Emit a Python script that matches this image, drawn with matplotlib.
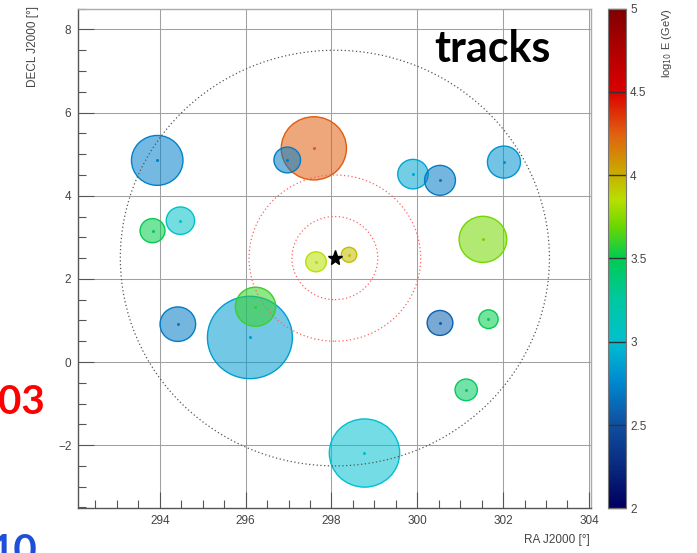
import matplotlib
matplotlib.use("Agg")
import matplotlib.pyplot as plt
from matplotlib.patches import Circle
from matplotlib.colors import LinearSegmentedColormap, Normalize
from matplotlib.ticker import MultipleLocator, FixedLocator
import numpy as np

# ---- event tracks: position (deg), angular error radius (deg), log10 energy ----
ra = [293.94, 297.59, 296.97, 293.83, 294.48, 297.64, 298.41, 299.90, 300.53,
      302.02, 301.53, 294.42, 296.10, 296.23, 298.77, 300.53, 301.66, 301.14]
dec = [4.85, 5.14, 4.86, 3.16, 3.40, 2.41, 2.58, 4.52, 4.37,
       4.81, 2.95, 0.91, 0.59, 1.33, -2.19, 0.94, 1.03, -0.67]
radius = [0.60, 0.76, 0.31, 0.29, 0.33, 0.24, 0.18, 0.355, 0.36,
          0.385, 0.555, 0.415, 0.99, 0.47, 0.82, 0.30, 0.225, 0.26]
log_e = [2.72, 4.25, 2.70, 3.50, 3.05, 3.85, 3.95, 2.88, 2.70,
         2.80, 3.70, 2.70, 2.85, 3.60, 3.00, 2.58, 3.50, 3.45]

# source position and search rings (deg)
src_ra, src_dec = 298.08, 2.50
inner_rings = [1.0, 2.0]
outer_ring = 5.0

x_ticks = [294, 296, 298, 300, 302, 304]
y_ticks = [-2, 0, 2, 4, 6, 8]
cbar_ticks = [2, 2.5, 3, 3.5, 4, 4.5, 5]

# rainbow palette for log10 E
palette = LinearSegmentedColormap.from_list("energy", [
    (0.000, "#000060"), (0.083, "#0a2a80"), (0.167, "#1050a0"),
    (0.250, "#0088d0"), (0.333, "#00c0d0"), (0.417, "#00c8a0"),
    (0.500, "#00cc50"), (0.567, "#70d800"), (0.617, "#b8e000"),
    (0.667, "#c8b000"), (0.750, "#e06010"), (0.833, "#dd0000"),
    (0.917, "#b00000"), (1.000, "#800000")])
norm = Normalize(2, 5)

plt.rcParams["font.family"] = ["Liberation Sans", "DejaVu Sans"]
fig = plt.figure(figsize=(6.97, 5.53), dpi=100)
ax = fig.add_axes([0.1123, 0.0808, 0.7357, 0.9035])
ax.set_xlim(292.1, 304.05)
ax.set_ylim(-3.52, 8.5)

for xi, yi, ri, ei in zip(ra, dec, radius, log_e):
    c = palette(norm(ei))
    ax.add_patch(Circle((xi, yi), ri, facecolor=c, alpha=0.55,
                        edgecolor="none", zorder=3))
    ax.add_patch(Circle((xi, yi), ri, facecolor="none", edgecolor=c,
                        lw=1.0, zorder=3))
    ax.plot([xi], [yi], marker="o", ms=1.2, color=c, zorder=3)

for r in inner_rings:
    ax.add_patch(Circle((src_ra, src_dec), r, facecolor="none",
                        edgecolor="#ff6060", lw=0.9, ls=(0, (1, 2)), zorder=4))
ax.add_patch(Circle((src_ra, src_dec), outer_ring, facecolor="none",
                    edgecolor="#555555", lw=0.9, ls=(0, (1, 2)), zorder=4))
ax.plot([src_ra], [src_dec], marker="*", ms=11, color="black", zorder=5)

ax.grid(True, color="#a0a0a0", lw=0.75, zorder=1)
ax.set_axisbelow(True)
ax.xaxis.set_major_locator(FixedLocator(x_ticks))
ax.yaxis.set_major_locator(FixedLocator(y_ticks))
ax.xaxis.set_minor_locator(MultipleLocator(0.5))
ax.yaxis.set_minor_locator(MultipleLocator(0.5))
ax.tick_params(which="major", direction="in", length=11.5, width=0.8,
               color="#555555", labelsize=8.5, labelcolor="#444444", pad=5)
ax.tick_params(which="minor", direction="in", length=5.5, width=0.8,
               color="#555555")
for s in ("left", "bottom"):
    ax.spines[s].set_color("#555555")
    ax.spines[s].set_linewidth(1.0)
for s in ("top", "right"):
    ax.spines[s].set_color("#aaaaaa")
    ax.spines[s].set_linewidth(1.0)

fig.text(590 / 697, 1 - 540 / 553, "RA J2000 [°]", ha="right", va="center",
         fontsize=8.5, color="#444444")
fig.text(33 / 697, 1 - 6 / 553, "DECL J2000 [°]", ha="center", va="top",
         rotation=90, fontsize=8.5, color="#444444")

ax.text(492 / 697, 1 - 49 / 553, "tracks", transform=fig.transFigure,
        ha="center", va="center", fontsize=31, fontweight="bold",
        family=["Lato", "DejaVu Sans"], color="black", zorder=6)

# colour scale
cax = fig.add_axes([608.3 / 697, 0.0808, 17.7 / 697, 0.9035])
grad = np.linspace(2, 5, 256).reshape(-1, 1)
cax.imshow(grad, aspect="auto", cmap=palette, norm=norm, origin="lower",
           extent=[0, 1, 2, 5])
cax.set_xlim(0, 1)
cax.set_ylim(2, 5)
cax.set_xticks([])
cax.yaxis.tick_right()
cax.set_yticks(cbar_ticks)
cax.set_yticklabels(["2", "2.5", "3", "3.5", "4", "4.5", "5"])
cax.tick_params(axis="y", direction="in", length=12.7, width=1.0,
                color="#333333", labelsize=8.5, labelcolor="#444444", pad=3)
for s in cax.spines.values():
    s.set_color("#777777")
    s.set_linewidth(0.8)
fig.text(667 / 697, 1 - 8 / 553, "log$_{10}$ E (GeV)", ha="center", va="top",
         rotation=90, fontsize=8, color="#444444")

# slide annotations partly outside the canvas
fig.text(-2 / 697, 1 - 414 / 553, "03", ha="left", va="baseline",
         fontsize=29, fontweight="bold", color="#ff0000",
         family=["Lato", "DejaVu Sans"])
fig.text(-10 / 697, 1 - 563 / 553, "10", ha="left", va="baseline",
         fontsize=29, fontweight="bold", color="#1f4ed8",
         family=["Lato", "DejaVu Sans"])

fig.savefig("out.png", dpi=100)
